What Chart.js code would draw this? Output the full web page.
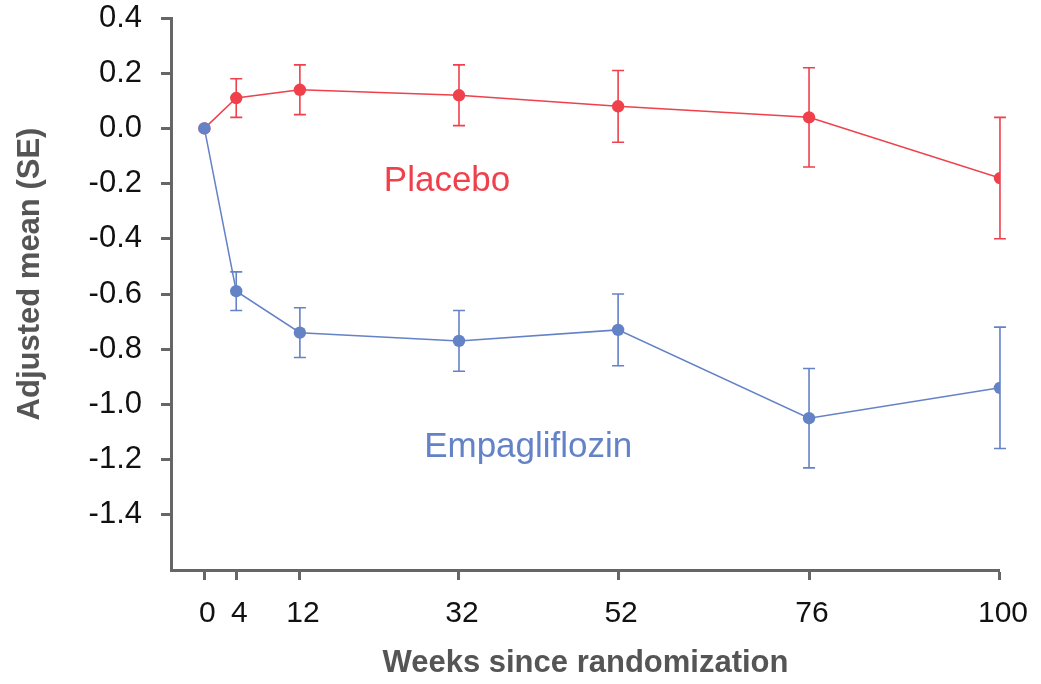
<!DOCTYPE html>
<html>
<head>
<meta charset="utf-8">
<script src="https://cdn.jsdelivr.net/npm/chart.js@4/dist/chart.umd.min.js"></script>
<style>
  html, body { margin: 0; padding: 0; background: #fff; }
  #wrap { width: 1041px; height: 684px; }
</style>
</head>
<body>
<div id="wrap"><canvas id="chart"></canvas></div>
<script>
// weeks since randomization
const weeks = [0, 4, 12, 32, 52, 76, 100];

// adjusted means and standard errors
const placeboMean = [0, 0.11, 0.14, 0.12, 0.08, 0.04, -0.18];
const placeboSE = [0, 0.07, 0.09, 0.11, 0.13, 0.18, 0.22];
const empaMean = [0, -0.59, -0.74, -0.77, -0.73, -1.05, -0.94];
const empaSE = [0, 0.07, 0.09, 0.11, 0.13, 0.18, 0.22];

const yMin = -1.6;
const yMax = 0.4;

// in-plot series labels (data coordinates)
const seriesLabels = [
  { text: "Placebo", week: 30.5, value: -0.225, color: "#ef404b" },
  { text: "Empagliflozin", week: 40.7, value: -1.19, color: "#6482c6" },
];

const RED = "#ef404b";
const BLUE = "#6482c6";
const AXIS = "#666666";
const FONT = "'Liberation Sans', Arial, Helvetica, sans-serif";

const errorBars = {
  id: "errorBars",
  beforeDatasetsDraw(chart) {
    const ctx = chart.ctx;
    const x = chart.scales.x;
    const y = chart.scales.y;
    chart.data.datasets.forEach((ds) => {
      ctx.save();
      ctx.strokeStyle = ds.borderColor;
      ctx.lineWidth = 1.6;
      ds.data.forEach((pt, i) => {
        const se = ds.se[i];
        if (!se) return;
        const px = x.getPixelForValue(pt.x);
        const top = y.getPixelForValue(pt.y + se);
        const bot = y.getPixelForValue(pt.y - se);
        ctx.beginPath();
        ctx.moveTo(px, top);
        ctx.lineTo(px, bot);
        ctx.moveTo(px - 6, top);
        ctx.lineTo(px + 6, top);
        ctx.moveTo(px - 6, bot);
        ctx.lineTo(px + 6, bot);
        ctx.stroke();
      });
      ctx.restore();
    });
  },
};

const textLabels = {
  id: "textLabels",
  afterDraw(chart) {
    const ctx = chart.ctx;
    const x = chart.scales.x;
    const y = chart.scales.y;
    ctx.save();
    ctx.font = "35px " + FONT;
    ctx.textAlign = "center";
    ctx.textBaseline = "alphabetic";
    seriesLabels.forEach((l) => {
      ctx.fillStyle = l.color;
      ctx.fillText(l.text, x.getPixelForValue(l.week), y.getPixelForValue(l.value));
    });
    // y axis title
    ctx.translate(30, 274);
    ctx.rotate(-Math.PI / 2);
    ctx.font = "bold 31px " + FONT;
    ctx.fillStyle = "#555555";
    ctx.textBaseline = "middle";
    ctx.fillText("Adjusted mean (SE)", 0, 0);
    ctx.restore();
  },
};

new Chart(document.getElementById("chart").getContext("2d"), {
  type: "line",
  data: {
    datasets: [
      {
        label: "Empagliflozin",
        data: weeks.map((w, i) => ({ x: w, y: empaMean[i] })),
        se: empaSE,
        borderColor: BLUE,
        backgroundColor: BLUE,
        borderWidth: 1.5,
        pointRadius: 6.2,
        pointBorderWidth: 0,
        tension: 0,
      },
      {
        label: "Placebo",
        data: weeks.map((w, i) => ({ x: w, y: placeboMean[i] })),
        se: placeboSE,
        borderColor: RED,
        backgroundColor: RED,
        borderWidth: 1.5,
        pointRadius: 6.2,
        pointBorderWidth: 0,
        tension: 0,
      },
    ],
  },
  options: {
    responsive: true,
    maintainAspectRatio: false,
    animation: false,
    layout: { padding: { left: 0, top: 18, right: 41, bottom: 0 } },
    plugins: { legend: { display: false }, tooltip: { enabled: false } },
    scales: {
      x: {
        type: "linear",
        min: -4.2,
        max: 100,
        afterBuildTicks: (scale) => {
          scale.ticks = weeks.map((w) => ({ value: w }));
        },
        afterFit: (scale) => {
          scale.height = 114;
        },
        border: { display: true, color: AXIS, width: 3 },
        grid: {
          drawOnChartArea: false,
          drawTicks: true,
          tickLength: 10,
          tickColor: AXIS,
          tickWidth: 3,
        },
        ticks: {
          color: "#111",
          font: { family: FONT, size: 30 },
          padding: 16,
          labelOffset: 3,
          maxRotation: 0,
          callback: (v) => String(v),
        },
        title: {
          display: true,
          text: "Weeks since randomization",
          color: "#555555",
          font: { family: FONT, size: 31, weight: "bold" },
          padding: { top: 0, bottom: 2 },
        },
      },
      y: {
        min: yMin,
        max: yMax,
        afterFit: (scale) => {
          scale.width = 171;
          scale.paddingTop = 0;
          scale.paddingBottom = 0;
        },
        border: { display: true, color: AXIS, width: 3 },
        grid: {
          drawOnChartArea: false,
          drawTicks: true,
          tickLength: 10,
          tickColor: (c) => (c.tick && c.tick.value < yMin + 0.05 ? "rgba(0,0,0,0)" : AXIS),
          tickWidth: 3,
        },
        ticks: {
          stepSize: 0.2,
          color: "#111",
          font: { family: FONT, size: 31 },
          padding: 19,
          callback: (v) => (v < yMin + 0.05 ? "" : Number(v).toFixed(1)),
        },
      },
    },
  },
  plugins: [errorBars, textLabels],
});
</script>
</body>
</html>
